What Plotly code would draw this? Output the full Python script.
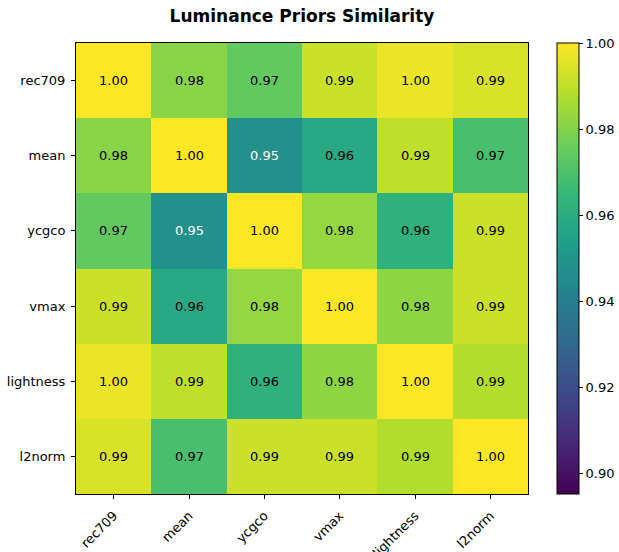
import plotly.graph_objects as go

labels = ["rec709", "mean", "ycgco", "vmax", "lightness", "l2norm"]
row_rec709 = [1.000, 0.981, 0.974, 0.992, 0.997, 0.994]
row_mean = [0.981, 1.000, 0.948, 0.958, 0.990, 0.969]
row_ycgco = [0.974, 0.948, 1.000, 0.983, 0.962, 0.992]
row_vmax = [0.992, 0.958, 0.983, 1.000, 0.982, 0.992]
row_lightness = [0.997, 0.990, 0.962, 0.982, 1.000, 0.988]
row_l2norm = [0.994, 0.969, 0.992, 0.992, 0.988, 1.000]
z = [row_rec709, row_mean, row_ycgco, row_vmax, row_lightness, row_l2norm]
zmin, zmax = 0.8953, 1.0
cbar_ticks = [0.90, 0.92, 0.94, 0.96, 0.98, 1.00]

FONT = "DejaVu Sans"
FS = 13

fig = go.Figure(go.Heatmap(
    z=z, x=labels, y=labels, colorscale="Viridis", zmin=zmin, zmax=zmax,
    xgap=0, ygap=0,
    colorbar=dict(
        thickness=22, len=451, lenmode="pixels", x=(557 - 76) / 452, xanchor="left",
        xpad=0, ypad=0,
        y=0.5, yanchor="middle", outlinewidth=1, outlinecolor="black",
        tickvals=cbar_ticks, ticktext=[f"{v:.2f}" for v in cbar_ticks],
        ticks="outside", ticklen=4, tickcolor="black",
        tickfont=dict(family=FONT, size=FS, color="black"),
    ),
    hoverinfo="skip",
))

annotations = []
for i, row in enumerate(z):
    for j, v in enumerate(row):
        annotations.append(dict(
            x=labels[j], y=labels[i], text=f"{v:.2f}", showarrow=False,
            font=dict(family=FONT, size=FS, color="white" if v < 0.955 else "black"),
        ))

fig.update_layout(
    width=619, height=552,
    margin=dict(l=76, r=91, t=43, b=58, autoexpand=False),
    paper_bgcolor="white", plot_bgcolor="white",
    title=dict(text="<b>Luminance Priors Similarity</b>", x=(76 + 226) / 619, xref="container",
               xanchor="center",
               y=1 - 16 / 552, yanchor="middle",
               font=dict(family=FONT, size=17, color="black")),
    annotations=annotations,
    font=dict(family=FONT, color="black"),
)
fig.update_xaxes(
    tickangle=-45, ticks="outside", ticklen=4, tickcolor="black",
    showline=True, linecolor="black", linewidth=1, mirror=True,
    tickfont=dict(family=FONT, size=FS, color="black"), showgrid=False,
    automargin=False, ticklabelstandoff=4,
)
fig.update_yaxes(
    autorange="reversed", ticks="outside", ticklen=4, tickcolor="black",
    showline=True, linecolor="black", linewidth=1, mirror=True,
    tickfont=dict(family=FONT, size=FS, color="black"), showgrid=False,
    automargin=False, ticklabelstandoff=3,
)

fig.write_html("out.html", config={"displayModeBar": False},
               post_script="document.body.style.margin='0';document.body.style.overflow='hidden';")
